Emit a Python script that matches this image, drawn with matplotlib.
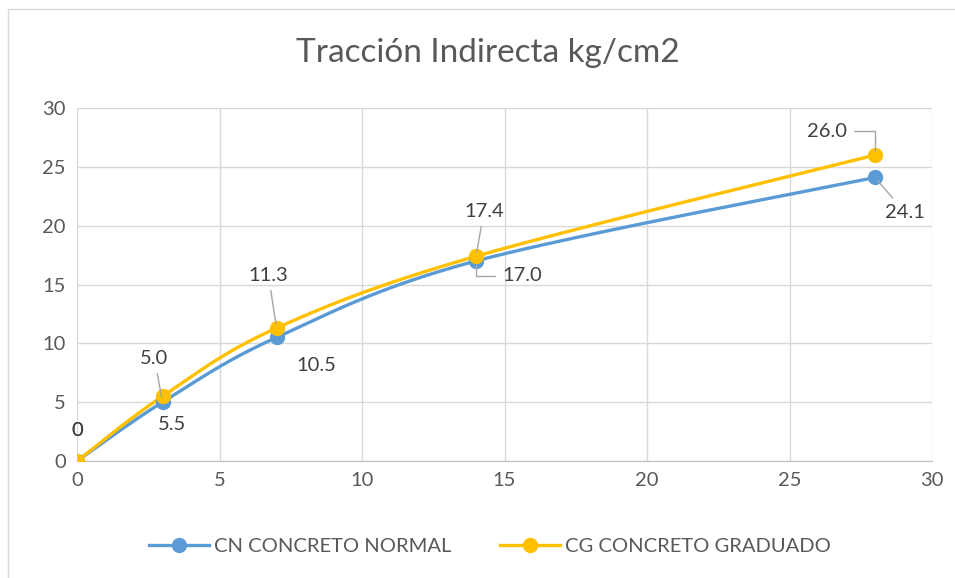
import numpy as np
import matplotlib
matplotlib.use("Agg")
import matplotlib.pyplot as plt
from matplotlib.patches import Rectangle

# edad de ensayo (dias) y resistencia a traccion indirecta
dias = [0, 3, 7, 14, 28]
cn_normal = [0, 5.0, 10.5, 17.0, 24.1]
cg_graduado = [0, 5.5, 11.3, 17.4, 26.0]
serie_cn = "CN CONCRETO NORMAL"
serie_cg = "CG CONCRETO GRADUADO"
titulo = "Tracción Indirecta kg/cm2"

AZUL = "#5B9BD5"
AMARILLO = "#FFC000"
GRIS_TXT = "#595959"

# desplazamiento de etiquetas en pixeles (dx, dy) y tipo de linea guia
etq_cn = [(0, 31, None), (-8, 44, "recta"), (40, -28, None), (46, -15, "codo"), (30, -35, "recta")]
etq_cg = [(0, 31, None), (10, -28, None), (-8, 53, "recta"), (8, 45, "recta"), (-48, 24, "codo")]


def suavizar(x, y, n=40):
    # curva bezier tipo excel (tangentes catmull-rom / 6)
    p = np.column_stack([x, y]).astype(float)
    p_ext = np.vstack([p[0], p, p[-1]])
    xs, ys = [], []
    t = np.linspace(0, 1, n)
    for i in range(len(p) - 1):
        p0 = p_ext[i + 1]
        p3 = p_ext[i + 2]
        c1 = p0 + (p_ext[i + 2] - p_ext[i]) / 6
        c2 = p3 - (p_ext[i + 3] - p_ext[i + 1]) / 6
        b = ((1 - t) ** 3)[:, None] * p0 + (3 * (1 - t) ** 2 * t)[:, None] * c1 \
            + (3 * (1 - t) * t ** 2)[:, None] * c2 + (t ** 3)[:, None] * p3
        xs.extend(b[:, 0])
        ys.extend(b[:, 1])
    return xs, ys


plt.rcParams["font.family"] = ["Lato", "DejaVu Sans"]

fig = plt.figure(figsize=(9.55, 5.78), dpi=100)
ax = fig.add_axes([77 / 955, 1 - 461 / 578, 855 / 955, 353 / 578])

# marco del grafico
fig.patches.append(Rectangle((8 / 955, -0.1), 1.2, 1 - 9 / 578 + 0.1, transform=fig.transFigure,
                             fill=False, edgecolor="#D9D9D9", linewidth=1.0))

for yv, col, nom in [(cn_normal, AZUL, serie_cn), (cg_graduado, AMARILLO, serie_cg)]:
    sx, sy = suavizar(dias, yv)
    ax.plot(sx, sy, color=col, linewidth=2.4, solid_capstyle="round", zorder=3)
    ax.plot(dias, yv, linestyle="none", marker="o", markersize=10, color=col, zorder=4)
    ax.plot([], [], color=col, linewidth=2.4, marker="o", markersize=10, label=nom)

for yv, etq in [(cn_normal, etq_cn), (cg_graduado, etq_cg)]:
    for xv, v, (dx, dy, guia) in zip(dias, yv, etq):
        txt = "0" if v == 0 else f"{v:.1f}"
        props = None
        if guia == "recta":
            props = dict(arrowstyle="-", color="#A6A6A6", linewidth=1.0, shrinkA=3, shrinkB=3)
        elif guia == "codo":
            props = dict(arrowstyle="-", color="#A6A6A6", linewidth=1.0, shrinkA=3, shrinkB=3,
                         connectionstyle="angle,angleA=0,angleB=90,rad=0")
        ax.annotate(txt, xy=(xv, v), xytext=(dx, dy), textcoords="offset pixels",
                    ha="center", va="center", fontsize=14.5, color="#404040",
                    arrowprops=props, zorder=5)

ax.set_xlim(0, 30)
ax.set_ylim(0, 30)
ax.set_xticks(range(0, 31, 5))
ax.set_yticks(range(0, 31, 5))
ax.grid(True, color="#D9D9D9", linewidth=1.0)
ax.set_axisbelow(True)
for s in ax.spines.values():
    s.set_visible(False)
ax.spines["bottom"].set_visible(True)
ax.spines["bottom"].set_color("#BFBFBF")
ax.tick_params(length=0, labelsize=14.5, labelcolor=GRIS_TXT, pad=8)

fig.text(488 / 955, 1 - 53 / 578, titulo, ha="center", va="center", fontsize=24, color=GRIS_TXT)

fig.legend(loc="center", bbox_to_anchor=(490 / 955, 1 - 546 / 578), ncol=2, frameon=False,
           fontsize=14.5, labelcolor=GRIS_TXT, handlelength=3.0, handletextpad=0.25, columnspacing=2.4)

fig.savefig("out.png", dpi=100)
